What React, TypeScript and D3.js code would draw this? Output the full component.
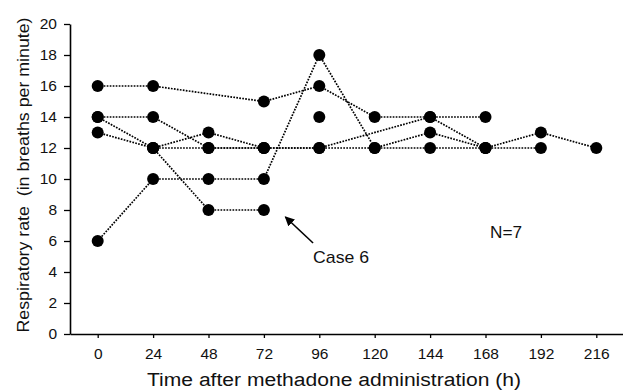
import React, { useEffect, useRef } from 'react';
import * as d3 from 'd3';

// hours after methadone administration on the axis
const hourTicks = [0, 24, 48, 72, 96, 120, 144, 168, 192, 216];
const rateTicks = [0, 2, 4, 6, 8, 10, 12, 14, 16, 18, 20];

// one array per patient: [hour, breaths per minute]
const patient1: [number, number][] = [[0, 16], [24, 16], [72, 15], [96, 16], [120, 14], [144, 14], [168, 14]];
const case6: [number, number][] = [[0, 14], [24, 12], [48, 8], [72, 8]];
const patient3: [number, number][] = [[0, 14], [24, 14], [48, 12], [72, 12], [96, 12], [120, 12], [144, 12], [168, 12], [192, 12]];
const patient4: [number, number][] = [[0, 13], [24, 12], [48, 13], [72, 12], [96, 12], [144, 14], [168, 12], [192, 13], [216, 12]];
const patient5: [number, number][] = [[0, 6], [24, 10], [48, 10], [72, 10], [96, 18], [120, 12], [144, 13], [168, 12]];
const patient6: [number, number][] = [[24, 12], [48, 12], [72, 12]];
const patient7: [number, number][] = [[96, 14]];

const patients = [patient1, case6, patient3, patient4, patient5, patient6, patient7];

export default function App() {
  const svgRef = useRef<SVGSVGElement>(null);

  useEffect(() => {
    if (!svgRef.current) return;
    const svg = d3.select(svgRef.current);
    svg.selectAll('*').remove();

    const font = 'Liberation Sans, Arial, sans-serif';
    const x = d3.scaleLinear().domain([-12, 228]).range([70, 624]);
    const y = d3.scaleLinear().domain([0, 20]).range([334, 24]);

    // arrow head
    svg
      .append('defs')
      .append('marker')
      .attr('id', 'arrow')
      .attr('viewBox', '0 0 10 10')
      .attr('refX', 9)
      .attr('refY', 5)
      .attr('markerWidth', 6)
      .attr('markerHeight', 6)
      .attr('orient', 'auto')
      .append('path')
      .attr('d', 'M0,0 L10,5 L0,10 z')
      .attr('fill', '#000');

    // Y axis
    const yAxis = svg
      .append('g')
      .attr('transform', `translate(${x(-12)},0)`)
      .call(d3.axisLeft(y).tickValues(rateTicks).tickSize(6).tickPadding(7).tickSizeOuter(0));
    yAxis.select('.domain').attr('stroke', '#000').attr('stroke-width', 1.6);
    yAxis.selectAll('.tick line').attr('stroke', '#000').attr('stroke-width', 1.3);
    yAxis.selectAll('.tick text').style('font-family', font).style('font-size', '15.5px').attr('fill', '#111');

    // X axis
    const xAxis = svg
      .append('g')
      .attr('transform', `translate(0,${y(0)})`)
      .call(d3.axisBottom(x).tickValues(hourTicks).tickSize(4).tickPadding(10).tickSizeOuter(0));
    xAxis.select('.domain').attr('stroke', '#000').attr('stroke-width', 1.6);
    xAxis.selectAll('.tick line').attr('stroke', '#000').attr('stroke-width', 1.3);
    xAxis.selectAll('.tick text').style('font-family', font).style('font-size', '15.5px').attr('fill', '#111');

    // Patient lines, drawn segment by segment so overlapping dots line up
    const segments = patients.flatMap((p) => d3.pairs(p));
    svg
      .append('g')
      .selectAll('line')
      .data(segments)
      .enter()
      .append('line')
      .attr('x1', (d) => x(d[0][0]))
      .attr('y1', (d) => y(d[0][1]))
      .attr('x2', (d) => x(d[1][0]))
      .attr('y2', (d) => y(d[1][1]))
      .attr('stroke', '#000')
      .attr('stroke-width', 1.7)
      .attr('stroke-dasharray', '1.7,1.3');

    // Points
    svg
      .append('g')
      .selectAll('circle')
      .data(patients.flat())
      .enter()
      .append('circle')
      .attr('cx', (d) => x(d[0]))
      .attr('cy', (d) => y(d[1]))
      .attr('r', 6)
      .attr('fill', '#000');

    // Case 6 annotation
    svg
      .append('line')
      .attr('x1', x(93.3))
      .attr('y1', y(5.87))
      .attr('x2', x(81.3))
      .attr('y2', y(7.55))
      .attr('stroke', '#000')
      .attr('stroke-width', 1.6)
      .attr('marker-end', 'url(#arrow)');

    svg
      .append('text')
      .attr('x', x(93.3))
      .attr('y', y(4.6))
      .attr('textLength', 56)
      .attr('lengthAdjust', 'spacingAndGlyphs')
      .style('font-family', font)
      .style('font-size', '17px')
      .attr('fill', '#111')
      .text('Case 6');

    svg
      .append('text')
      .attr('x', x(170))
      .attr('y', y(6.2))
      .attr('textLength', 32)
      .attr('lengthAdjust', 'spacingAndGlyphs')
      .style('font-family', font)
      .style('font-size', '17px')
      .attr('fill', '#111')
      .text('N=7');

    // Axis titles
    svg
      .append('text')
      .attr('transform', `translate(29,${(y(0) + y(20)) / 2 - 4}) rotate(-90)`)
      .attr('text-anchor', 'middle')
      .attr('textLength', 315)
      .attr('lengthAdjust', 'spacingAndGlyphs')
      .style('font-family', font)
      .style('font-size', '17px')
      .style('white-space', 'pre')
      .attr('fill', '#111')
      .text('Respiratory rate  (in breaths per minute)');

    svg
      .append('text')
      .attr('x', 334)
      .attr('y', 386)
      .attr('text-anchor', 'middle')
      .attr('textLength', 374)
      .attr('lengthAdjust', 'spacingAndGlyphs')
      .style('font-family', font)
      .style('font-size', '18px')
      .attr('fill', '#111')
      .text('Time after methadone administration (h)');
  }, []);

  return (
    <svg
      ref={svgRef}
      width={623}
      height={390}
      style={{ position: 'absolute', left: 0, top: 0, background: '#fff' }}
    ></svg>
  );
}
